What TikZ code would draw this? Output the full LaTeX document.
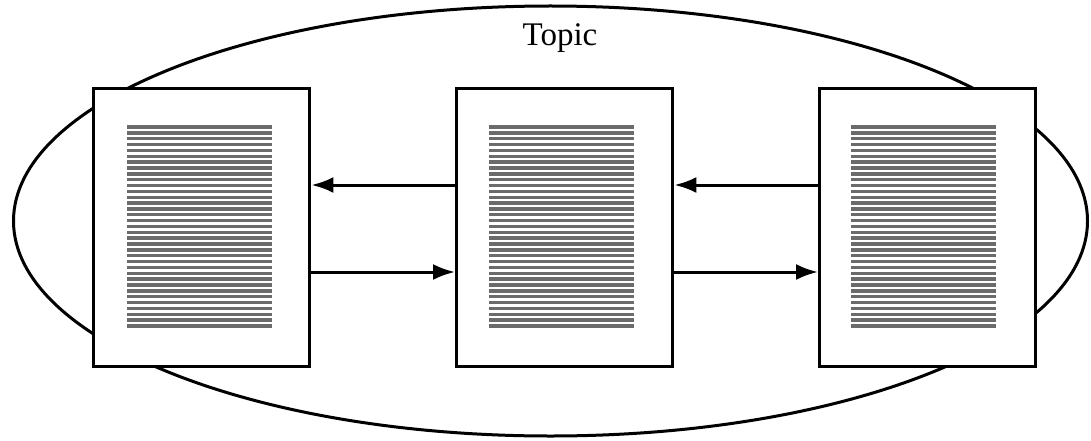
\documentclass[tikz,border=0pt]{standalone}
\usepackage{fontspec}
\setmainfont{Liberation Serif}
\usetikzlibrary{arrows.meta}
\tikzset{
  page/.style={draw=black, line width=3.4pt, fill=white, minimum width=216pt, minimum height=278pt, inner sep=0pt, anchor=north west},
  textline/.style={draw=black!58, line width=3.4pt},
  arr/.style={line width=3pt, -{Latex[length=22pt,width=16pt]}},
  topic/.style={draw=black, line width=3pt}
}
\begin{document}
\begin{tikzpicture}[x=1pt,y=-1pt]
\useasboundingbox (0,0) rectangle (1091,441);
\draw[topic] (550.5,221) ellipse [x radius=537, y radius=215];
\node[font=\fontsize{33}{36}\selectfont] (topic) at (560,38) {Topic};
\node[page] (p1) at (92,87) {};
\node[page] (p2) at (455,87) {};
\node[page] (p3) at (818,87) {};
\foreach \x in {127,489,851}{
  \foreach \i in {0,...,34}{
    \draw[textline] (\x,127+\i*5.85) -- (\x+145,127+\i*5.85);
  }
}
\draw[arr] (p2.west |- 0,185) -- (p1.east |- 0,185);
\draw[arr] (p1.east |- 0,272) -- (p2.west |- 0,272);
\draw[arr] (p3.west |- 0,185) -- (p2.east |- 0,185);
\draw[arr] (p2.east |- 0,272) -- (p3.west |- 0,272);
\end{tikzpicture}
\end{document}
